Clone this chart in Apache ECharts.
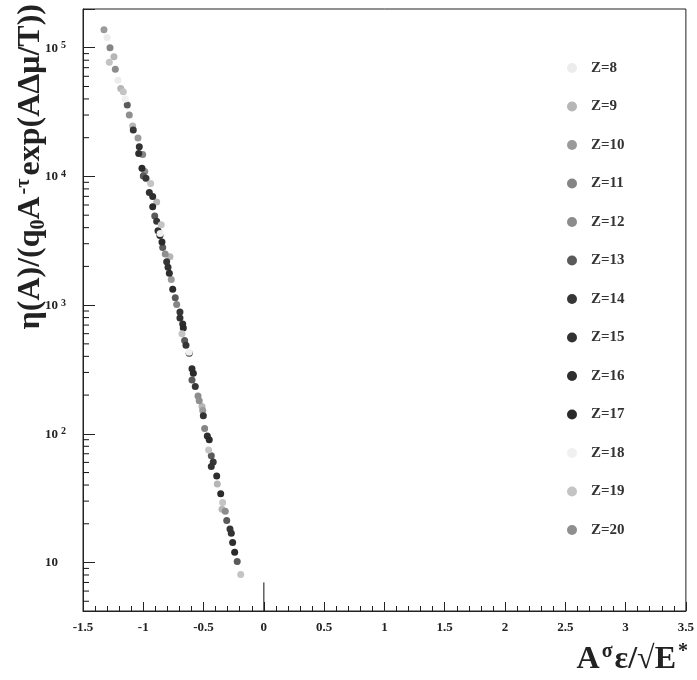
<!DOCTYPE html>
<html>
<head>
<meta charset="utf-8">
<script src="https://cdn.jsdelivr.net/npm/echarts@6/dist/echarts.min.js"></script>
<style>html,body{margin:0;padding:0;background:#fff;}#c{width:697px;height:680px;}</style>
</head>
<body>
<div id="c"></div>
<script>
// ---- data ----
const seriesNames = ['Z=8','Z=9','Z=10','Z=11','Z=12','Z=13','Z=14','Z=15','Z=16','Z=17','Z=18','Z=19','Z=20'];
const seriesColors = ['#ececec','#b6b6b6','#9a9a9a','#858585','#8c8c8c','#5a5a5a','#363636','#323232','#2e2e2e','#2a2a2a','#f0f0f0','#c4c4c4','#8f8f8f'];
const z8  = [[-1.30,1.2e5],[-1.21,5.6e4],[-0.97,9500]];
const z9  = [[-1.243,8.5e4],[-1.187,4.83e4],[-1.088,2.47e4],[-0.889,6340],[-0.779,2380],[-0.513,163],[-0.386,40.8],[-0.347,25.9]];
const z10 = [[-1.326,1.38e5],[-1.044,1.99e4],[-0.768,1580],[-0.507,152]];
const z11 = [[-1.276,1.0e5],[-1.005,1.48e4],[-0.723,1010],[-0.491,110]];
const z12 = [[-1.232,6.8e4],[-0.988,1.09e4],[-0.546,197],[-0.320,25.0]];
const z13 = [[-1.133,3.59e4],[-1.0,1.01e4],[-0.905,4930],[-0.839,2810],[-0.735,1140],[-0.657,530],[-0.596,262],[-0.436,67.5],[-0.308,21.2],[-0.221,10.2]];
const z14 = [[-1.083,2.30e4],[-0.978,9700],[-0.889,4480],[-0.806,2170],[-0.696,885],[-0.646,487],[-0.569,233],[-0.420,60.5],[-0.281,18.2]];
const z15 = [[-1.033,1.70e4],[-0.950,7500],[-0.878,3790],[-0.795,1970],[-0.696,796],[-0.619,423],[-0.502,138],[-0.436,55.7],[-0.270,16.9]];
const z16 = [[-1.038,1.51e4],[-0.922,6970],[-0.862,3480],[-0.784,1770],[-0.673,714],[-0.596,321],[-0.469,96],[-0.391,47.1],[-0.259,14.3]];
const z17 = [[-1.011,1.16e4],[-0.922,5820],[-0.845,3100],[-0.756,1330],[-0.668,665],[-0.585,295],[-0.453,89.8],[-0.358,34.2],[-0.242,12.0]];
const z18 = [[-1.15,4.0e4],[-0.86,3600],[-0.62,430]];
const z19 = [[-1.282,7.7e4],[-1.166,4.55e4],[-0.939,8800],[-0.851,4220],[-0.679,598],[-0.458,75],[-0.342,29.3],[-0.192,8.07]];
const z20 = [[-1.116,3.0e4],[-0.818,2500],[-0.536,181]];
const allData = [z8,z9,z10,z11,z12,z13,z14,z15,z16,z17,z18,z19,z20];

const xMin = -1.5, xMax = 3.5, xStep = 0.5;
const yMin = 4.2, yMax = 2.0e5;
// log-axis minor tick positions (2..9 x 10^k)
const yMinorTicks = [];
for (let k = 0; k <= 5; k++) for (let m = 2; m <= 9; m++) { const v = m * Math.pow(10, k); if (v > yMin && v < yMax) yMinorTicks.push(v); }
const zeroLine = [[0, yMin], [0, 7.0]];

const FONT = "'Liberation Serif','DejaVu Serif',serif";
const chart = echarts.init(document.getElementById('c'), null, {renderer: 'canvas'});

const series = seriesNames.map((n, i) => ({
  name: n, type: 'scatter', data: allData[i], symbol: 'circle', symbolSize: 7,
  itemStyle: {color: seriesColors[i], opacity: 1}, z: 3
}));
series.push({
  type: 'custom', silent: true, data: yMinorTicks.map(v => [xMin, v]), z: 4,
  renderItem: function (params, api) {
    const p = api.coord([api.value(0), api.value(1)]);
    return {type: 'line', shape: {x1: p[0], y1: p[1], x2: p[0] + 6, y2: p[1]}, style: {stroke: '#111', lineWidth: 1}};
  }
});
series.push({
  type: 'line', data: zeroLine, symbol: 'none', silent: true,
  lineStyle: {color: '#111', width: 1}, z: 4
});

chart.setOption({
  animation: false,
  backgroundColor: '#fff',
  grid: {left: 83, right: 11, top: 9, bottom: 69, show: true, borderColor: '#222', borderWidth: 1, backgroundColor: 'transparent'},
  xAxis: {
    type: 'value', min: xMin, max: xMax, interval: xStep,
    axisLine: {onZero: false, lineStyle: {color: '#222', width: 1}},
    axisTick: {inside: true, length: 9, lineStyle: {color: '#222'}},
    minorTick: {show: true, splitNumber: 5, length: 5, lineStyle: {color: '#222'}},
    splitLine: {show: false},
    axisLabel: {margin: 10, fontFamily: FONT, fontWeight: 'bold', fontSize: 13, color: '#222'}
  },
  yAxis: {
    type: 'log', min: yMin, max: yMax, logBase: 10,
    axisLine: {onZero: false, lineStyle: {color: '#222', width: 1}},
    axisTick: {inside: true, length: 12, lineStyle: {color: '#222'}},
    splitLine: {show: false},
    axisLabel: {
      margin: 38, align: 'left', fontFamily: FONT, fontWeight: 'bold', fontSize: 13, color: '#222',
      formatter: function (v) {
        const e = Math.round(Math.log10(v));
        if (Math.abs(v - Math.pow(10, e)) / v > 1e-6) return '';
        if (e === 1) return '{b|10}';
        return '{b|10}{s|' + e + '}';
      },
      rich: {
        b: {fontFamily: FONT, fontWeight: 'bold', fontSize: 13, color: '#222', lineHeight: 14, verticalAlign: 'bottom'},
        s: {fontFamily: FONT, fontWeight: 'bold', fontSize: 10, color: '#222', lineHeight: 14, verticalAlign: 'top', padding: [0, 0, 6, 3]}
      }
    }
  },
  legend: {
    data: seriesNames, orient: 'vertical', left: 562, top: 55,
    itemWidth: 10, itemHeight: 10, itemGap: 22.5, icon: 'circle',
    itemStyle: {opacity: 1},
    textStyle: {fontFamily: FONT, fontWeight: 'bold', fontSize: 15, color: '#333', lineHeight: 16, padding: [0, 0, 0, 9]}
  },
  graphic: [
    {
      type: 'text', x: 31, y: 4, rotation: Math.PI / 2,
      style: {
        text: 'η(A)/(q{sub|0}A{sup|-τ}exp(AΔμ/T))',
        align: 'right', verticalAlign: 'middle',
        fontFamily: FONT, fontWeight: 'bold', fontSize: 32, fill: '#222',
        rich: {
          sub: {fontFamily: FONT, fontWeight: 'bold', fontSize: 20, fill: '#222', verticalAlign: 'bottom', padding: [12, 0, 0, 0]},
          sup: {fontFamily: FONT, fontWeight: 'bold', fontSize: 20, fill: '#222', verticalAlign: 'top', padding: [0, 3, 15, 2]}
        }
      }
    },
    {
      type: 'text', x: 690, y: 660,
      style: {
        text: 'A{sup|σ}ε/√E{sup|*}',
        align: 'right', verticalAlign: 'middle',
        fontFamily: FONT, fontWeight: 'bold', fontSize: 32, fill: '#222',
        rich: {
          sup: {fontFamily: FONT, fontWeight: 'bold', fontSize: 20, fill: '#222', verticalAlign: 'top', padding: [0, 2, 16, 2]}
        }
      }
    }
  ],
  series: series
});
</script>
</body>
</html>
